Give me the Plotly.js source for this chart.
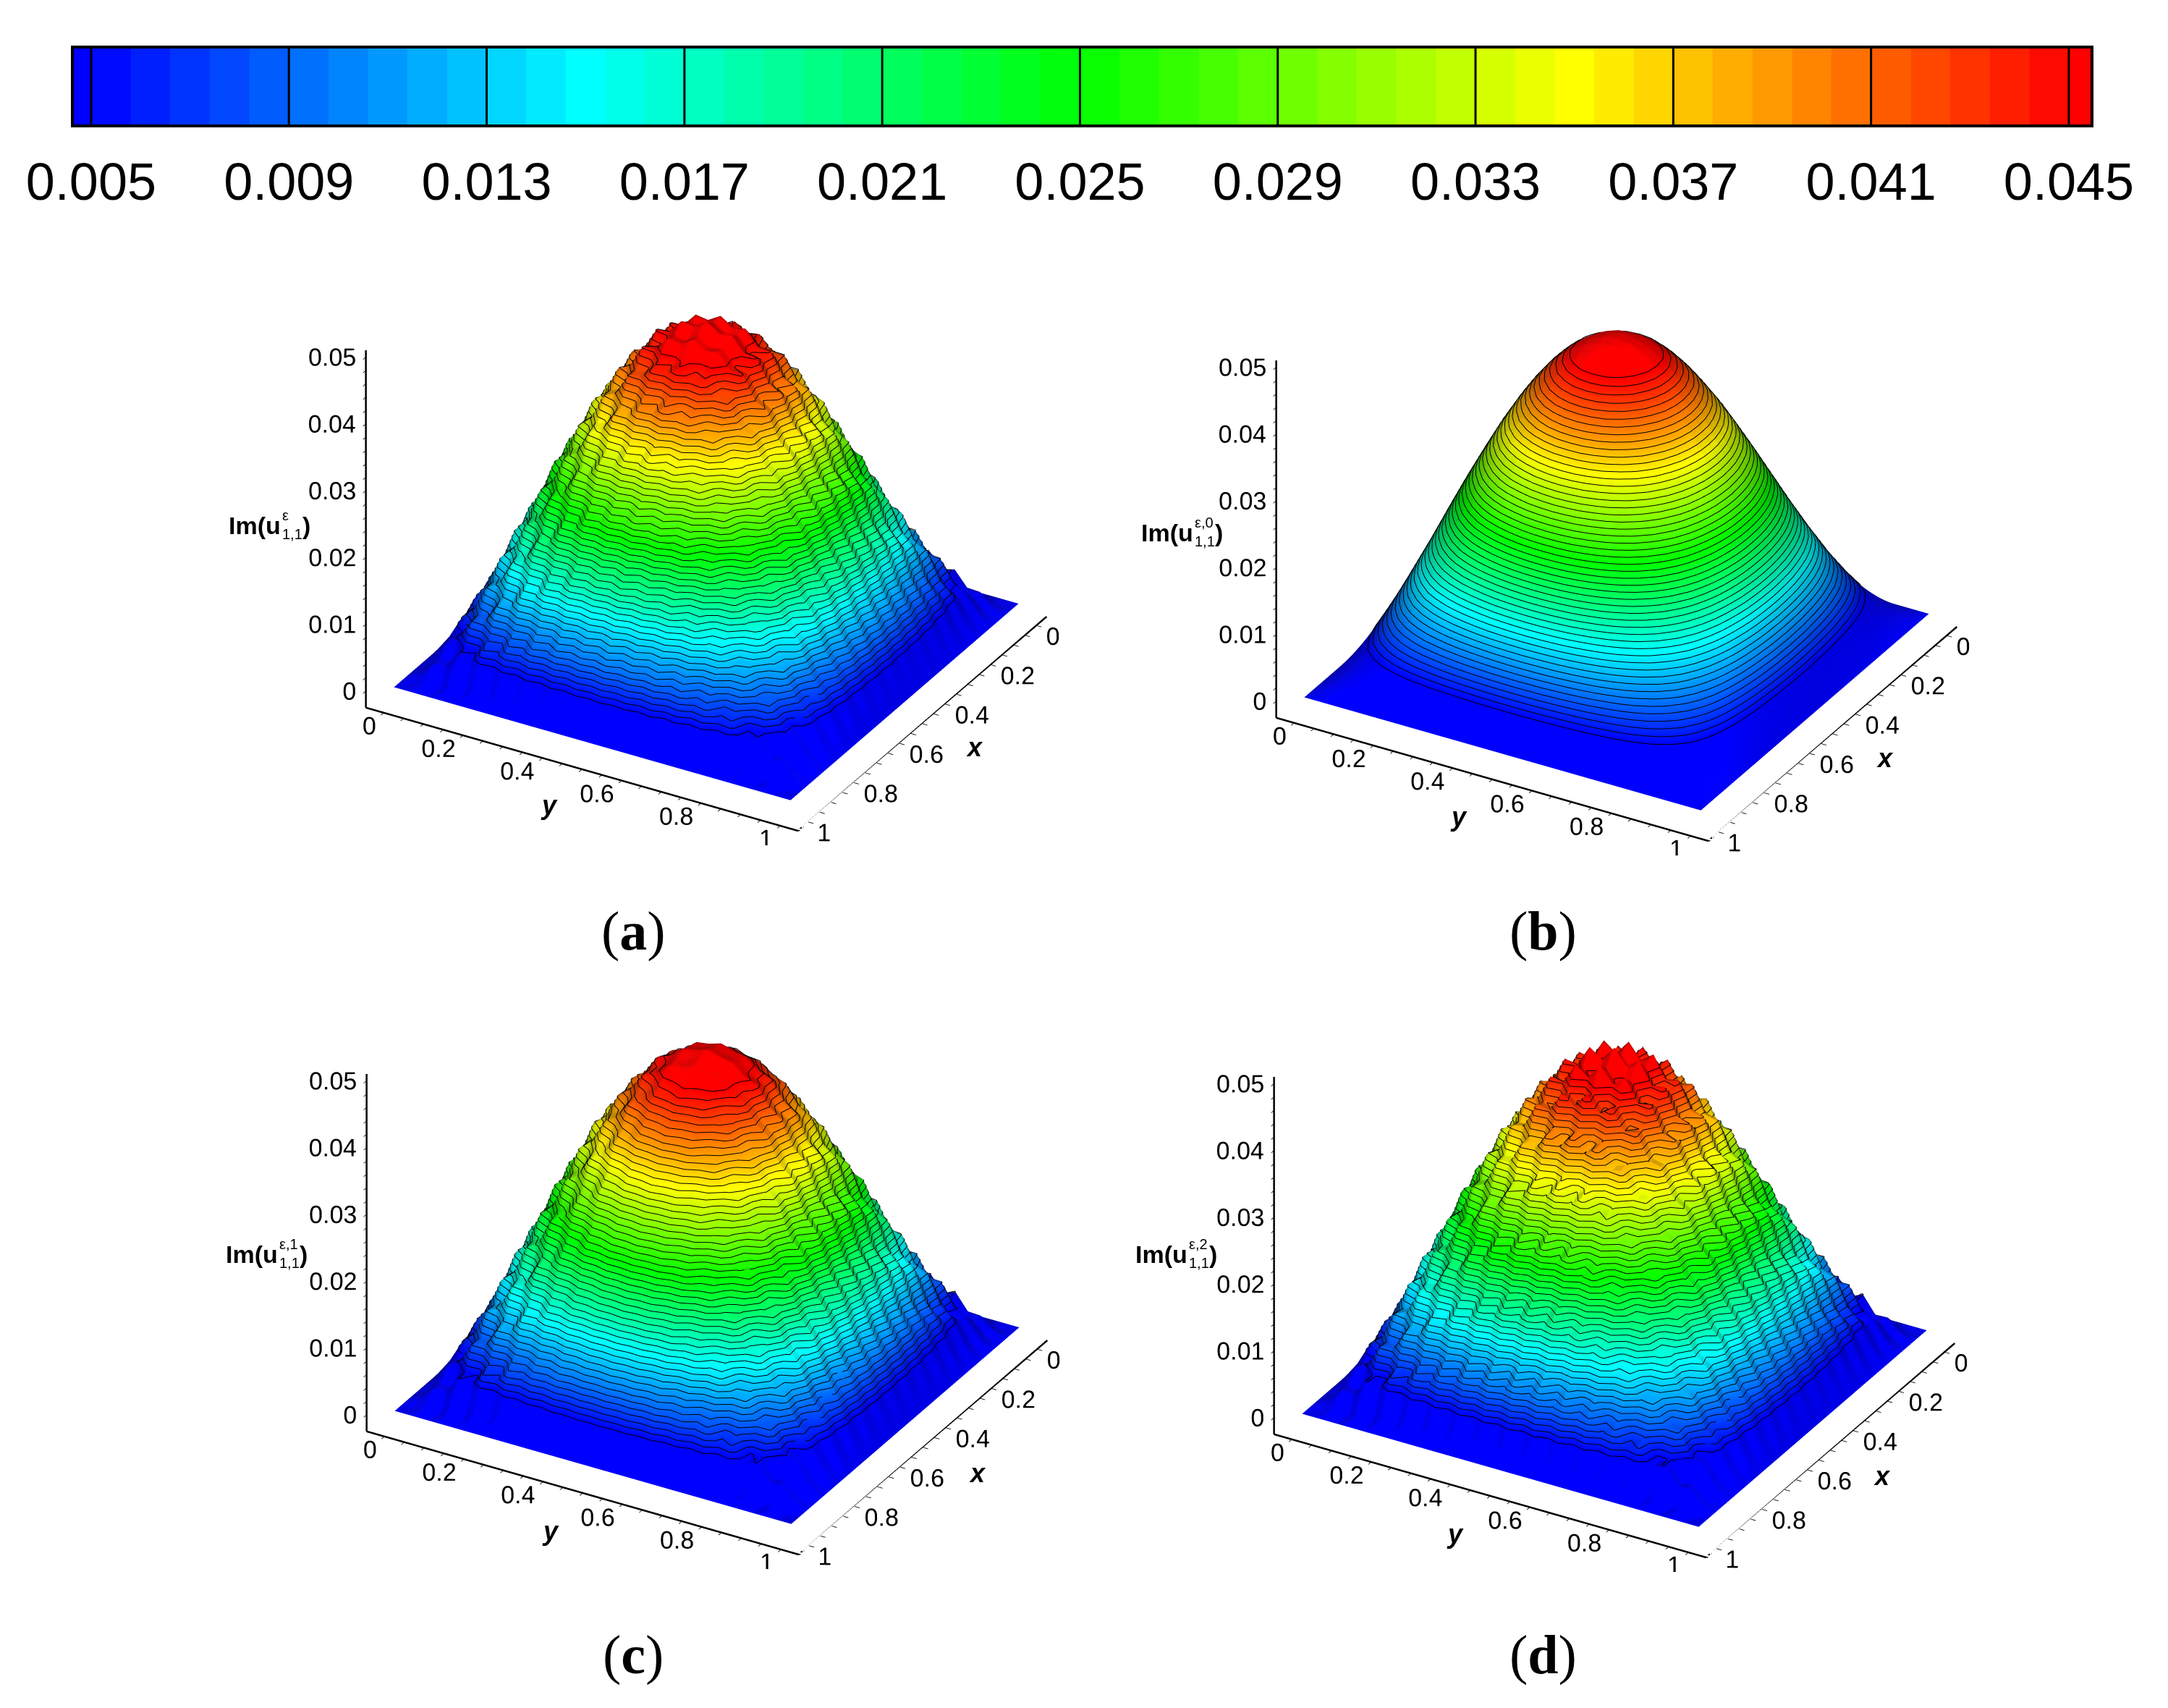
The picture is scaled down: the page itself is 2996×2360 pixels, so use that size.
<!DOCTYPE html>
<html>
<head>
<meta charset="utf-8">
<script src="https://cdn.plot.ly/plotly-3.0.1.min.js"></script>
<style>
  html, body { margin: 0; padding: 0; background: #fff; }
  #chart { width: 2996px; height: 2360px; }
</style>
</head>
<body>
<div id="chart"></div>
<script>
// legend levels and their printed labels
const legendLevels = [0.005,0.0058,0.0066,0.0074,0.0082,0.009,0.0098,0.0106,0.0114,0.0122,0.013,0.0138,0.0146,0.0154,0.0162,0.017,0.0178,0.0186,0.0194,0.0202,0.021,0.0218,0.0226,0.0234,0.0242,0.025,0.0258,0.0266,0.0274,0.0282,0.029,0.0298,0.0306,0.0314,0.0322,0.033,0.0338,0.0346,0.0354,0.0362,0.037,0.0378,0.0386,0.0394,0.0402,0.041,0.0418,0.0426,0.0434,0.0442,0.045];
const legendTicks = [0.005,0.009,0.013,0.017,0.021,0.025,0.029,0.033,0.037,0.041,0.045];
const legendLabels = ["0.005","0.009","0.013","0.017","0.021","0.025","0.029","0.033","0.037","0.041","0.045"];

const xyTicks = [0,0.05,0.1,0.15,0.2,0.25,0.3,0.35,0.4,0.45,0.5,0.55,0.6,0.65,0.7,0.75,0.8,0.85,0.9,0.95,1];
const xyMajor = [0,0.2,0.4,0.6,0.8,1];
const xyLabels = ["0","0.2","0.4","0.6","0.8","1"];
const zTicks = [0,0.002,0.004,0.006,0.008,0.01,0.012,0.014,0.016,0.018,0.02,0.022,0.024,0.026,0.028,0.03,0.032,0.034,0.036,0.038,0.04,0.042,0.044,0.046,0.048,0.05];
const zMajor = [0,0.01,0.02,0.03,0.04,0.05];
const zLabels = ["0","0.01","0.02","0.03","0.04","0.05"];

// grid positions from the edge to the middle of the unit square
const gridPos = [0,0.03125,0.0625,0.09375,0.125,0.15625,0.1875,0.21875,0.25,0.28125,0.3125,0.34375,0.375,0.40625,0.4375,0.46875,0.5];

// heights of one quarter of each surface, 500 = the panel's peak height
const heightsA = [
[0,0,0,0,0,0,0,0,0,0,0,0,0,0,0,0,0],
[0,1,10,10,19,19,27,27,35,34,41,39,45,43,48,45,49],
[0,10,27,28,45,46,62,62,77,75,89,86,98,93,104,97,106],
[0,2,28,30,56,56,81,80,103,100,121,116,134,127,142,132,145],
[0,19,51,55,87,90,120,121,149,148,173,168,190,183,201,190,205],
[0,9,46,54,90,97,131,136,167,168,196,194,218,212,232,221,236],
[0,27,68,81,120,131,168,176,210,215,245,245,271,266,287,277,292],
[0,17,62,78,121,136,176,187,224,231,264,266,293,289,311,301,317],
[0,35,83,103,149,167,210,224,264,273,308,312,341,338,361,352,368],
[0,24,75,98,148,168,215,231,273,285,321,327,357,356,379,371,386],
[0,41,95,121,173,196,245,264,308,321,360,367,398,398,422,414,430],
[0,29,86,114,168,194,245,266,312,327,367,375,407,408,433,425,441],
[0,45,104,134,190,218,271,293,341,357,398,407,441,442,467,460,476],
[0,35,93,127,183,214,266,291,338,358,398,410,442,446,469,464,478],
[0,48,106,142,197,232,283,311,357,379,418,433,463,469,491,488,500],
[0,41,97,130,190,221,277,301,352,371,414,425,460,466,488,485,498],
[0,49,112,145,205,236,292,317,368,386,430,441,472,478,500,498,510]
];
const heightsB = [
[0,0,0,0,0,0,0,0,0,0,0,0,0,0,0,0,0],
[0,5,10,14,19,23,27,31,35,38,41,43,45,47,48,49,49],
[0,10,19,28,37,46,54,62,69,75,81,86,90,93,96,97,98],
[0,14,28,42,56,68,81,92,103,112,121,128,134,139,142,144,145],
[0,19,37,55,73,90,106,121,135,148,159,168,176,183,187,190,191],
[0,23,46,68,90,111,131,150,167,182,196,208,218,226,232,235,236],
[0,27,54,81,106,131,154,176,196,215,231,245,257,266,273,277,278],
[0,31,62,92,121,150,176,201,224,245,264,280,293,303,311,315,317],
[0,35,69,103,135,167,196,224,250,273,294,312,327,338,347,352,354],
[0,38,75,112,148,182,215,245,273,299,321,341,357,370,379,385,386],
[0,41,81,121,159,196,231,264,294,321,346,367,384,398,408,414,416],
[0,43,86,128,168,208,245,280,312,341,367,389,407,422,433,439,441],
[0,45,90,134,176,218,257,293,327,357,384,407,427,442,453,460,462],
[0,47,93,139,183,226,266,303,338,370,398,422,442,458,469,476,478],
[0,48,96,142,187,232,273,311,347,379,408,433,453,469,481,488,490],
[0,49,97,144,190,235,277,315,352,385,414,439,460,476,488,495,498],
[0,49,98,145,191,236,278,317,354,386,416,441,462,478,490,498,500]
];
const heightsC = [
[0,0,0,0,0,0,0,0,0,0,0,0,0,0,0,0,0],
[0,0,10,8,19,17,27,25,35,32,41,37,45,41,48,43,49],
[0,10,27,28,45,46,62,62,77,75,89,86,98,93,104,97,106],
[0,0,28,26,56,52,81,76,103,96,121,112,134,123,142,128,145],
[0,19,53,55,89,90,122,121,151,148,175,168,192,183,203,190,207],
[0,7,46,52,90,95,131,134,167,166,196,192,218,210,232,219,236],
[0,27,70,81,122,131,170,176,212,215,247,245,273,266,289,277,294],
[0,15,62,76,121,134,176,185,224,229,264,264,293,287,311,299,317],
[0,35,85,103,151,167,212,224,266,273,310,312,343,338,363,352,370],
[0,28,75,102,148,172,215,235,273,289,321,331,357,360,379,375,386],
[0,41,91,121,169,196,241,264,304,321,356,367,394,398,418,414,426],
[0,33,86,118,168,198,245,270,312,331,367,379,407,412,433,429,441],
[0,45,98,134,184,218,265,293,335,357,392,407,435,442,461,460,470],
[0,41,93,133,183,220,266,297,338,364,398,416,442,452,469,470,478],
[0,48,100,142,191,232,277,311,351,379,412,433,457,469,485,488,494],
[0,45,97,140,190,231,277,311,352,381,414,435,460,472,488,491,498],
[0,49,102,145,195,236,282,317,358,386,420,441,466,478,494,498,504]
];
const heightsD = [
[0,0,0,0,0,0,0,0,0,0,0,0,0,0,0,0,0],
[0,0,10,8,19,17,27,25,35,32,41,37,45,41,48,43,49],
[0,10,29,28,47,46,64,62,79,75,91,86,100,93,106,97,108],
[0,0,28,26,56,52,81,76,103,96,121,112,134,123,142,128,145],
[0,19,55,55,91,90,124,121,153,148,177,168,194,183,205,190,209],
[0,5,46,50,90,93,131,132,167,164,196,190,218,208,232,217,236],
[0,27,72,81,124,131,172,176,214,215,249,245,275,266,291,277,296],
[0,13,62,74,121,132,176,183,224,227,264,262,293,285,311,297,317],
[0,35,87,103,153,167,214,224,268,273,312,312,345,338,365,352,372],
[0,20,75,94,148,164,215,227,273,281,321,323,357,352,379,367,386],
[0,41,99,121,177,196,249,264,312,321,364,367,402,398,426,414,434],
[0,23,86,108,168,188,245,260,312,321,367,369,407,402,433,419,441],
[0,45,110,134,196,218,277,293,347,357,404,407,447,442,473,460,482],
[0,27,93,119,183,206,266,283,338,350,398,402,442,438,469,456,478],
[0,48,118,142,209,232,295,311,369,379,430,433,475,469,503,488,512],
[0,27,97,122,190,213,277,293,352,363,414,417,460,454,488,473,498],
[0,49,120,145,213,236,300,317,376,386,438,441,484,478,512,498,522]
];
const peaks = [0.0475, 0.0475, 0.0475, 0.0465];

const W = 2996, H = 2360;
const font = "Liberation Sans, Arial, sans-serif";
const xyRange = [-0.045, 1.045];
const zRange = [-0.0025, 0.051];

const rainbow = [[0,"rgb(0,0,255)"],[0.25,"rgb(0,255,255)"],[0.5,"rgb(0,255,0)"],[0.75,"rgb(255,255,0)"],[1,"rgb(255,0,0)"]];

// screen centres (px) of the four plot boxes, and where their text goes
const panels = [
  { key: "", centre: [976, 668], letter: "a", letterAt: [875, 1286], zAt: [314, 726], sup: "ε", xAt: [1347, 1032], yAt: [759, 1112], heights: heightsA },
  { key: "2", centre: [2234, 682], letter: "b", letterAt: [2132, 1286], zAt: [1575, 736], sup: "ε,0", xAt: [2605, 1047], yAt: [2016, 1128], heights: heightsB },
  { key: "3", centre: [977, 1668], letter: "c", letterAt: [875, 2286], zAt: [310, 1733], sup: "ε,1", xAt: [1351, 2035], yAt: [761, 2115], heights: heightsC },
  { key: "4", centre: [2231, 1672], letter: "d", letterAt: [2132, 2286], zAt: [1567, 1733], sup: "ε,2", xAt: [2601, 2039], yAt: [2011, 2119], heights: heightsD }
];

function mirror(quarter){
  const rows = quarter.map(r => r.concat(r.slice(0, -1).reverse()));
  return rows.concat(rows.slice(0, -1).reverse());
}

function text(px, py, str, size, anchor){
  return {
    x: px / W, y: 1 - py / H, xref: "paper", yref: "paper",
    xanchor: anchor || "center", yanchor: "middle",
    text: str, showarrow: false,
    font: { family: font, size: size, color: "#000" }
  };
}

function axis3d(range, ticks){
  return {
    range, title: { text: "" },
    tickmode: "array", tickvals: ticks, ticktext: ticks.map(() => ""), showticklabels: false,
    ticks: "outside", ticklen: 8, tickwidth: 2, tickcolor: "#000",
    showline: false,
    showgrid: false, zeroline: false, showbackground: false, showspikes: false
  };
}

// gl tick labels have no offset setting, so they go in as text traces near the ticks
function tickText(scene, x, y, z, labels, position){
  return {
    type: "scatter3d", scene, mode: "text", hoverinfo: "skip",
    x, y, z, text: labels, textposition: position,
    textfont: { family: font, size: 34, color: "#000" }
  };
}

// gl contour lines stay 1px wide, so they are traced here and drawn as a line trace
function contourLines(grid, z, levels){
  const xs = [], ys = [], zs = [];
  const lift = 0.00012;
  levels.forEach(lev => {
    for(let r = 0; r < grid.length - 1; r++){
      for(let c = 0; c < grid.length - 1; c++){
        const corners = [[c, r], [c + 1, r], [c + 1, r + 1], [c, r + 1]];
        const hits = [];
        for(let k = 0; k < 4; k++){
          const [c0, r0] = corners[k], [c1, r1] = corners[(k + 1) % 4];
          const v0 = z[r0][c0], v1 = z[r1][c1];
          if((v0 < lev) !== (v1 < lev)){
            const t = (lev - v0) / (v1 - v0);
            hits.push([grid[c0] + t * (grid[c1] - grid[c0]), grid[r0] + t * (grid[r1] - grid[r0])]);
          }
        }
        for(let h = 0; h + 1 < hits.length; h += 2){
          xs.push(hits[h][0], hits[h + 1][0], null);
          ys.push(hits[h][1], hits[h + 1][1], null);
          zs.push(lev + lift, lev + lift, null);
        }
      }
    }
  });
  return { xs, ys, zs };
}

const grid = gridPos.concat(gridPos.slice(0, -1).reverse().map(p => 1 - p));
const traces = [];
const annotations = [];
const layout = {
  width: W, height: H,
  margin: { l: 0, r: 0, t: 0, b: 0 },
  paper_bgcolor: "#fff",
  showlegend: false,
  // top legend bar
  xaxis: {
    domain: [102 / W, 2889 / W], range: [0.00465, 0.04544],
    tickmode: "array", tickvals: legendTicks, ticktext: legendLabels,
    tickfont: { family: font, size: 72, color: "#000" },
    ticks: "outside", ticklen: 14, tickcolor: "rgba(0,0,0,0)",
    showgrid: false, zeroline: false, showline: true, mirror: true, linecolor: "#000", linewidth: 4
  },
  yaxis: {
    domain: [1 - 172 / H, 1 - 67 / H], range: [0, 1],
    showticklabels: false, ticks: "", showgrid: false, zeroline: false,
    showline: true, mirror: true, linecolor: "#000", linewidth: 4
  },
  shapes: legendTicks.map(t => ({
    type: "line", xref: "x", yref: "y", x0: t, x1: t, y0: 0, y1: 1,
    line: { color: "#000", width: 3 }
  }))
};

// bands of the legend; the slivers past both ends take the end colours
traces.push({
  type: "heatmap",
  x: [0.0045].concat(legendLevels, [0.0455]),
  y: [0, 1],
  z: [[0.005].concat(legendLevels.slice(0, -1).map((v, i) => (v + legendLevels[i + 1]) / 2), [0.045])],
  zmin: 0.005, zmax: 0.045, colorscale: rainbow, showscale: false, hoverinfo: "skip"
});

const half = [600, 500];
panels.forEach((p, n) => {
  const scene = "scene" + p.key;
  const z = mirror(p.heights).map(r => r.map(v => v / 500 * peaks[n]));
  traces.push({
    type: "surface", scene,
    x: grid, y: grid, z,
    cmin: 0.005, cmax: 0.045, colorscale: rainbow, showscale: false, hoverinfo: "skip",
    contours: { x: { highlight: false }, y: { highlight: false }, z: { highlight: false } },
    lighting: { ambient: 0.5, diffuse: 0.65, specular: 0.03, roughness: 0.7, fresnel: 0 },
    lightposition: { x: -1000, y: -570, z: -1900 }
  });
  const lines = contourLines(grid, z, legendLevels);
  traces.push({
    type: "scatter3d", scene, mode: "lines", hoverinfo: "skip",
    x: lines.xs, y: lines.ys, z: lines.zs,
    line: { color: "#000", width: 2 }
  });
  // same for the three axis lines
  traces.push({
    type: "scatter3d", scene, mode: "lines", hoverinfo: "skip",
    x: [xyRange[1], xyRange[1], xyRange[1], null, xyRange[0], xyRange[1]],
    y: [xyRange[0], xyRange[0], xyRange[1], null, xyRange[1], xyRange[1]],
    z: [zRange[1], zRange[0], zRange[0], null, zRange[0], zRange[0]],
    line: { color: "#000", width: 5 }
  });
  // anchors sit a little inside the box so the labels land where the picture has them
  traces.push(tickText(scene, zMajor.map(() => xyRange[1]), zMajor.map(() => -0.01), zMajor.map(v => v + 0.0006), zLabels, "middle left"));
  traces.push(tickText(scene, xyMajor.map(() => 0.975), xyMajor, xyMajor.map(() => -0.0015), xyLabels, "bottom left"));
  traces.push(tickText(scene, xyMajor, xyMajor.map(() => 1.01), xyMajor.map(() => 0.0003), xyLabels, "bottom right"));

  layout[scene] = {
    domain: {
      x: [(p.centre[0] - half[0]) / W, (p.centre[0] + half[0]) / W],
      y: [1 - (p.centre[1] + half[1]) / H, 1 - (p.centre[1] - half[1]) / H]
    },
    aspectmode: "manual", aspectratio: { x: 1.378, y: 1.378, z: 1.137 },
    camera: {
      projection: { type: "orthographic" },
      eye: { x: 1.2, y: 0.69, z: 0.79 },
      up: { x: 0, y: 0, z: 1 }, center: { x: 0, y: 0, z: 0 }
    },
    xaxis: axis3d(xyRange, xyTicks),
    yaxis: axis3d(xyRange, xyTicks),
    zaxis: axis3d(zRange, zTicks),
    bgcolor: "rgba(0,0,0,0)"
  };

  annotations.push(text(p.letterAt[0], p.letterAt[1], "(<b>" + p.letter + "</b>)", 76));
  annotations[annotations.length - 1].font.family = "Liberation Serif, serif";
  annotations.push(text(p.xAt[0], p.xAt[1], "<b><i>x</i></b>", 36));
  annotations.push(text(p.yAt[0], p.yAt[1], "<b><i>y</i></b>", 36));
  // stacked super/subscript needs separate pieces
  const [zx, zy] = p.zAt;
  annotations.push(text(zx, zy, "<b>Im(u</b>", 34, "left"));
  annotations.push(text(zx + 74, zy - 14, p.sup, 20, "left"));
  annotations.push(text(zx + 74, zy + 12, "1,1", 20, "left"));
  annotations.push(text(zx + 102, zy, "<b>)</b>", 34, "left"));
});
layout.annotations = annotations;

// the surfaces take long to build; drawing after load keeps the page from stalling
window.addEventListener("load", () => {
  setTimeout(() => {
    Plotly.newPlot("chart", traces, layout, { displayModeBar: false, responsive: false });
  }, 0);
});
</script>
</body>
</html>
